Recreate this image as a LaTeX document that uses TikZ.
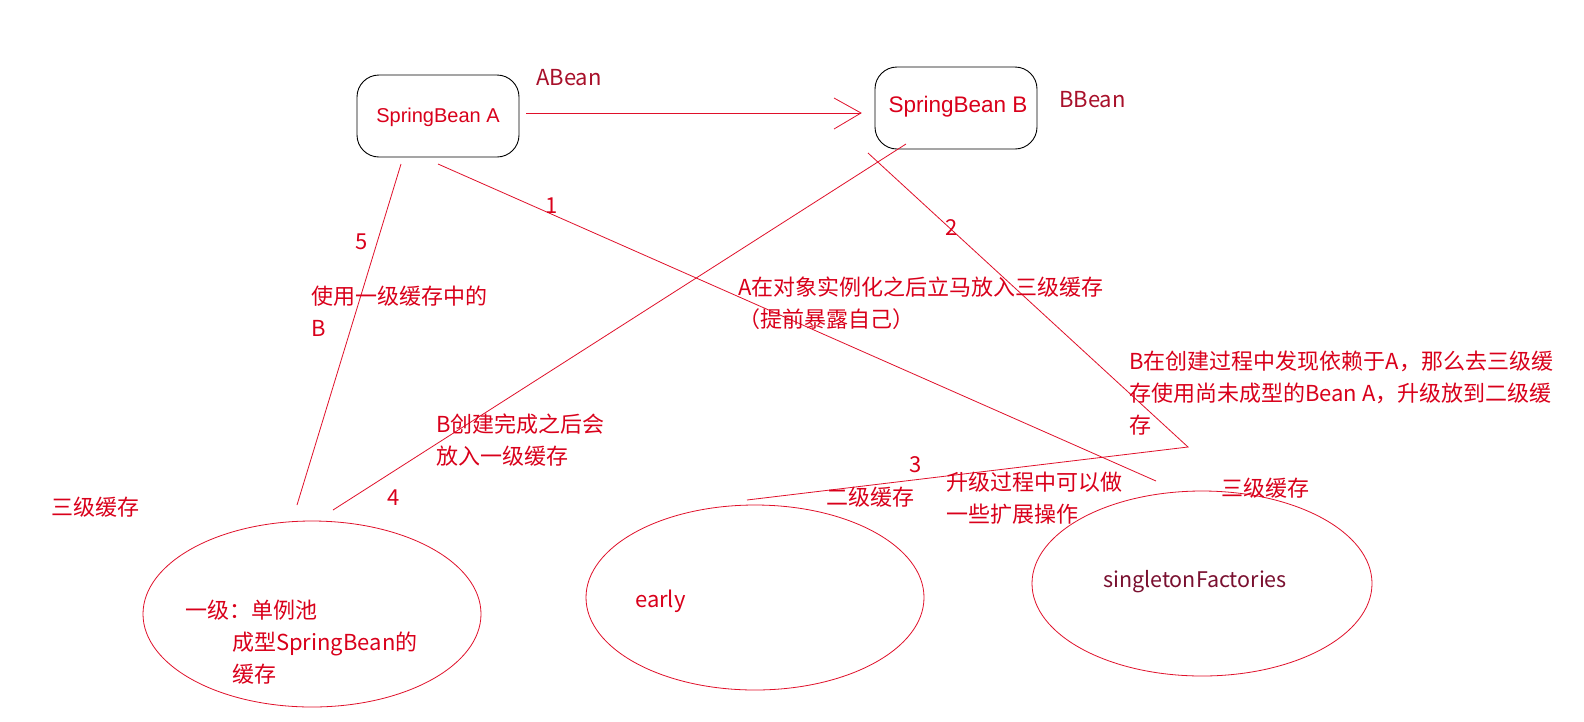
\documentclass[tikz,border=0pt]{standalone}
\usepackage{fontspec}
\setmainfont{Noto Sans CJK SC}
\newfontfamily\arialfont{Liberation Sans}
\usetikzlibrary{shapes.geometric}
\definecolor{txtred}{HTML}{D9001B}
\definecolor{darkred}{HTML}{A8102A}
\definecolor{maroon}{HTML}{7A1030}
\definecolor{linered}{HTML}{E0102A}
\tikzset{
  lbl/.style={inner sep=0pt, text=txtred, font=\fontsize{22}{32}\selectfont, align=left, anchor=base west},
  num/.style={inner sep=0pt, text=txtred, font=\fontsize{22}{26}\selectfont},
  conn/.style={draw=linered, line width=0.8pt},
  beanbox/.style={draw=black, line width=0.9pt, rounded corners=22pt, inner sep=0pt, minimum width=162pt, minimum height=82pt},
  beantxt/.style={text=txtred, font=\arialfont\fontsize{20}{24}\selectfont, inner sep=0pt},
  cache/.style={draw=linered, line width=0.8pt, ellipse, inner sep=0pt},
}
\begin{document}
\begin{tikzpicture}[x=1pt,y=-1pt]
\useasboundingbox (0,0) rectangle (1584,721);
\fill[white] (0,0) rectangle (1584,721);

% boxes
\node[beanbox] (A) at (438,116) {};
\node[beantxt] (Atxt) at (438,117) {SpringBean A};
\node[beanbox] (B) at (956,108) {};
\node[beantxt, font=\arialfont\fontsize{22.5}{26}\selectfont] (Btxt) at (958,107) {SpringBean B};
\node[lbl, text=darkred] (abean) at (536,85) {ABean};
\node[lbl, text=darkred] (bbean) at (1059,107) {BBean};

% ellipses
\node[cache, minimum width=338pt, minimum height=186pt] (E1) at (312,614) {};
\node[cache, minimum width=338pt, minimum height=185pt] (E2) at (755,597.5) {};
\node[cache, minimum width=340pt, minimum height=185pt] (E3) at (1202,583.5) {};

% connector endpoints
\coordinate (a5) at (401,164);
\coordinate (b5) at (297,505);
\coordinate (a1) at (438,164);
\coordinate (b1) at (1156,481);
\coordinate (a4) at (906,144);
\coordinate (b4) at (333,510);
\coordinate (a2) at (868,153);
\coordinate (k) at (1188,447);
\coordinate (b3) at (747,500);
\coordinate (arS) at (526,113);
\coordinate (arE) at (861,113);
\coordinate (h1) at (834,98);
\coordinate (h2) at (834,129);

\draw[conn] (a5) -- (b5);
\draw[conn] (a1) -- (b1);
\draw[conn] (a4) -- (b4);
\draw[conn] (a2) -- (k) -- (b3);
\draw[conn] (arS) -- (arE);
\draw[conn] (h1) -- (arE) -- (h2);

% numbers
\node[num] (n5) at (362,242) {5};
\node[num] (n1) at (552,206) {1};
\node[num] (n2) at (952,228) {2};
\node[num] (n3) at (916,465) {3};
\node[num] (n4) at (394,498) {4};

% labels
\node[lbl] (t1) at (738,327) {A在对象实例化之后立马放入三级缓存\\（提前暴露自己）};
\node[lbl] (t2) at (1129,433) {B在创建过程中发现依赖于A，那么去三级缓\\存使用尚未成型的Bean A，升级放到二级缓\\存};
\node[lbl] (t5) at (311,336) {使用一级缓存中的\\B};
\node[lbl] (t4) at (436,464) {B创建完成之后会\\放入一级缓存};
\node[lbl] (c3l) at (51,515) {三级缓存};
\node[lbl] (c2) at (826,505) {二级缓存};
\node[lbl] (t3) at (946,522) {升级过程中可以做\\一些扩展操作};
\node[lbl] (c3r) at (1221,496) {三级缓存};
\node[lbl] (e1a) at (185,618) {一级：单例池};
\node[lbl] (e1b) at (232,682) {成型SpringBean的\\缓存};
\node[lbl] (early) at (635,607) {early};
\node[inner sep=0pt, text=maroon, font=\fontsize{21.5}{26}\selectfont, anchor=base] (sf) at (1195,587) {singletonFactories};
\end{tikzpicture}
\end{document}
